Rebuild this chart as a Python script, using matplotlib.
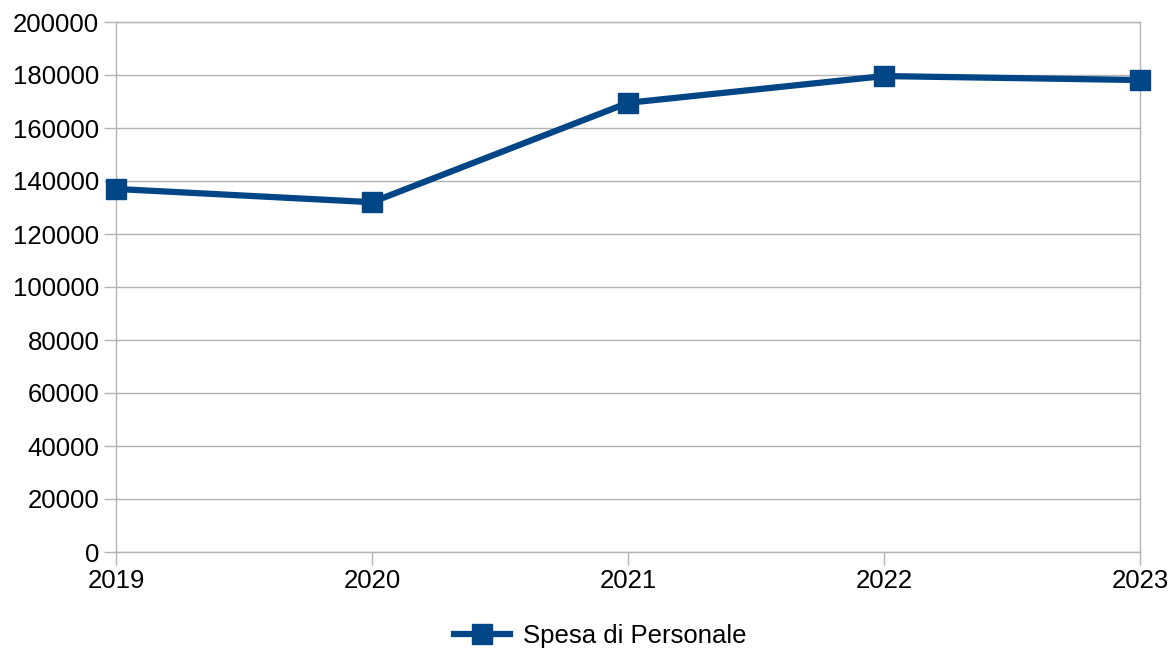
import matplotlib
matplotlib.use("Agg")
import matplotlib.pyplot as plt

years = ["2019", "2020", "2021", "2022", "2023"]
spesa_personale = [137000, 132000, 169500, 179600, 178100]
y_ticks = list(range(0, 200001, 20000))

plt.rcParams["font.family"] = ["Liberation Sans", "DejaVu Sans"]

fig = plt.figure(figsize=(11.68, 6.53), dpi=100)
ax = fig.add_axes([116 / 1168, 101 / 653, 1024 / 1168, 530 / 653])

x = list(range(len(years)))
ax.plot(x, spesa_personale, color="#004586", linewidth=4.5, marker="s",
        markersize=14, label="Spesa di Personale", solid_joinstyle="miter",
        clip_on=False, zorder=5)

ax.set_xlim(0, len(years) - 1)
ax.set_ylim(0, 200000)
ax.set_xticks(x)
ax.set_xticklabels(years)
ax.set_yticks(y_ticks)
ax.set_yticklabels([str(v) for v in y_ticks])

ax.grid(axis="y", color="#b3b3b3", linewidth=1)
ax.set_axisbelow(True)
for s in ax.spines.values():
    s.set_color("#b3b3b3")
    s.set_linewidth(1)
ax.tick_params(axis="both", colors="#b3b3b3", labelcolor="black",
               labelsize=18.5, length=9, width=1)
ax.tick_params(axis="y", pad=3)
ax.tick_params(axis="x", pad=3)

fig.legend(loc="center", bbox_to_anchor=(0.5 + 16 / 1168, 1 - 636 / 653),
           frameon=False, fontsize=18.5, handlelength=2.2, handletextpad=0.5)

fig.savefig("out.png", dpi=100)
